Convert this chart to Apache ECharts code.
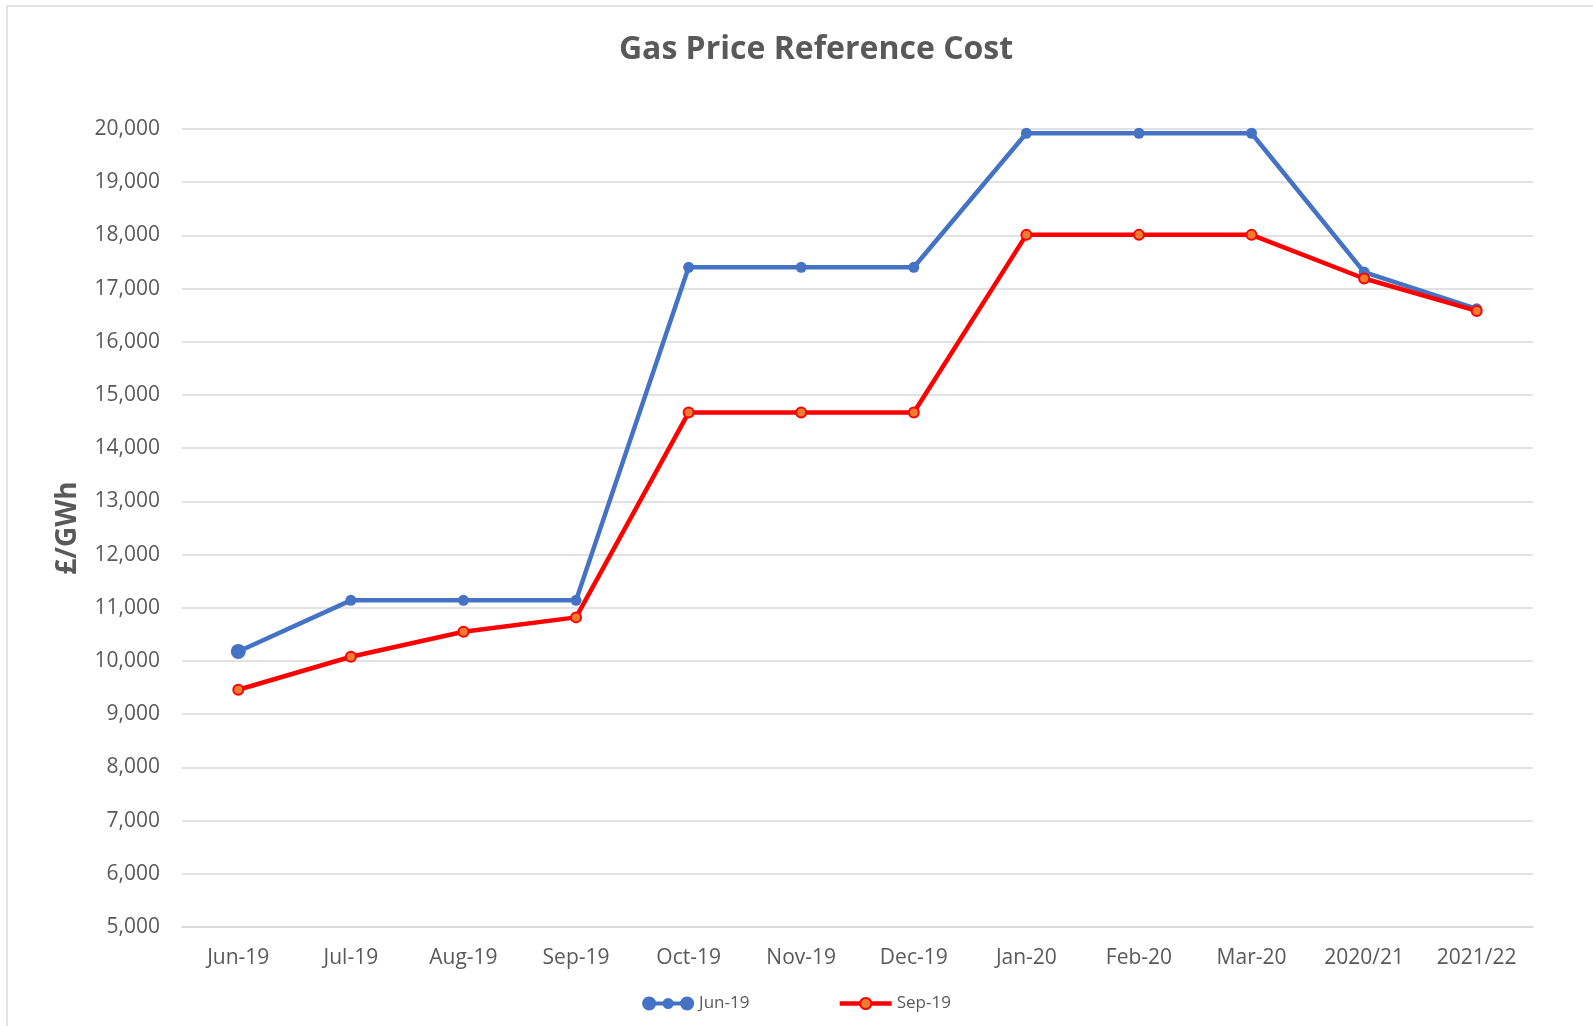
<!DOCTYPE html>
<html>
    <head>
        <meta charset="utf-8">
        <script src="https://cdn.jsdelivr.net/npm/echarts@6/dist/echarts.min.js"></script>
    </head>
    <body>
        <style>
            html, body, #main {
                margin: 0;
                width: 100%;
                height: 100vh;
                background: #fff;
            }
        </style>

        <div id="main"></div>

        <script>
            const months = ['Jun-19', 'Jul-19', 'Aug-19', 'Sep-19', 'Oct-19', 'Nov-19',
                            'Dec-19', 'Jan-20', 'Feb-20', 'Mar-20', '2020/21', '2021/22'];
            const jun19 = [10180, 11140, 11140, 11140, 17400, 17400, 17400, 19920, 19920, 19920, 17310, 16620];
            const sep19 = [9460, 10080, 10550, 10820, 14670, 14670, 14670, 18010, 18010, 18010, 17190, 16580];

            const textColor = '#595959';
            const font = 'Open Sans';

            // blue legend marker: three dots joined by a bar (all clockwise so they union)
            function dot(cx, cy, r) {
                return 'M' + (cx - r) + ',' + cy + ' a' + r + ',' + r + ' 0 1,1 ' + (2 * r) + ',0 a' + r + ',' + r + ' 0 1,1 ' + (-2 * r) + ',0 Z ';
            }
            const blueIcon = 'path://M7,5 L45,5 L45,9 L7,9 Z ' + dot(7, 7, 7) + dot(26, 7, 5.5) + dot(45, 7, 7);

            var chart = echarts.init(document.querySelector('#main'));
            window.onresize = chart.resize;

            var option = {
                animation: false,
                textStyle: {fontFamily: font},
                title: {
                    text: 'Gas Price Reference Cost',
                    left: 811,
                    textAlign: 'center',
                    top: 29,
                    textStyle: {color: textColor, fontSize: 32, fontWeight: 'bold', fontFamily: font}
                },
                graphic: [{
                    type: 'rect',
                    shape: {x: 7, y: 6, width: 3000, height: 3000},
                    style: {fill: 'none', stroke: '#d9d9d9', lineWidth: 1.5},
                    silent: true
                }],
                grid: {left: 182, right: 60, top: 129, bottom: 99},
                legend: {
                    bottom: 9,
                    left: 'center',
                    itemWidth: 52,
                    itemHeight: 14,
                    itemGap: 88,
                    textStyle: {color: textColor, fontSize: 17, fontFamily: font},
                    data: [
                        {name: 'Jun-19', icon: blueIcon},
                        {name: 'Sep-19', lineStyle: {width: 4.5}}
                    ]
                },
                xAxis: {
                    type: 'category',
                    data: months,
                    boundaryGap: true,
                    axisLine: {lineStyle: {color: '#d9d9d9', width: 1.5}},
                    axisTick: {show: false},
                    axisLabel: {color: textColor, fontSize: 21, margin: 21}
                },
                yAxis: {
                    type: 'value',
                    min: 5000,
                    max: 20000,
                    interval: 1000,
                    name: '£/GWh',
                    nameLocation: 'middle',
                    nameGap: 100,
                    nameRotate: 90,
                    nameTextStyle: {color: textColor, fontSize: 28, fontWeight: 'bold', fontFamily: font},
                    axisLine: {show: false},
                    axisTick: {show: false},
                    splitLine: {lineStyle: {color: '#d9d9d9', width: 1.5}},
                    axisLabel: {
                        color: textColor,
                        fontSize: 21,
                        margin: 22,
                        formatter: v => v.toLocaleString('en-US')
                    }
                },
                series: [
                    {
                        name: 'Jun-19',
                        type: 'line',
                        data: jun19,
                        symbol: 'circle',
                        symbolSize: (v, p) => p.dataIndex === 0 ? 15 : 11,
                        lineStyle: {color: '#4472c4', width: 4.5},
                        itemStyle: {color: '#4472c4'}
                    },
                    {
                        name: 'Sep-19',
                        type: 'line',
                        data: sep19,
                        symbol: 'circle',
                        symbolSize: 10,
                        lineStyle: {color: '#ff0000', width: 4.5},
                        itemStyle: {color: '#ed7d31', borderColor: '#ff0000', borderWidth: 2}
                    }
                ]
            };

            chart.setOption(option);
        </script>
    </body>
</html>
